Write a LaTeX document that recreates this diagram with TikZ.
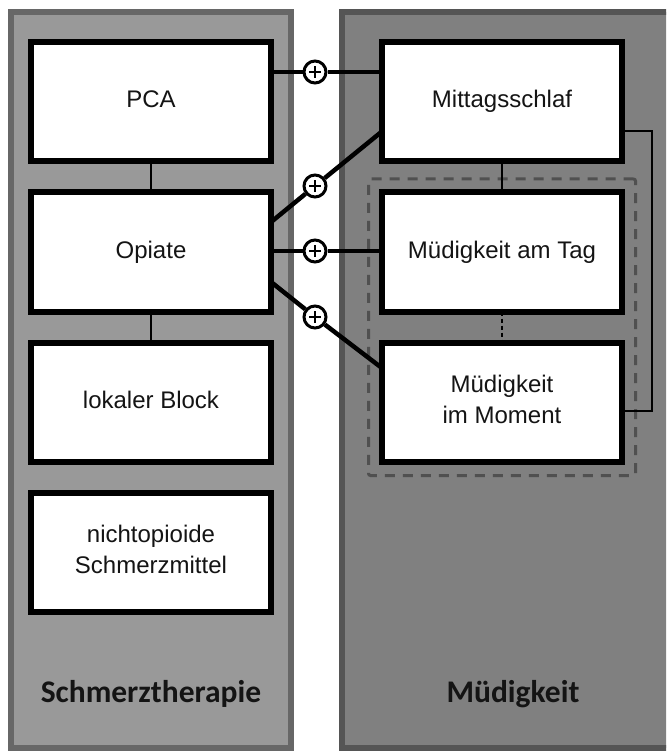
\documentclass[tikz,border=0pt]{standalone}
\usepackage{fontspec}
\setmainfont{Liberation Sans}
\newfontfamily\labelfont{Carlito}
\usetikzlibrary{fit}
\definecolor{leftfill}{HTML}{999999}
\definecolor{leftborder}{HTML}{676767}
\definecolor{rightfill}{HTML}{808080}
\definecolor{rightborder}{HTML}{555555}
\definecolor{dashgray}{HTML}{505050}
\definecolor{txt}{HTML}{141414}
\tikzset{
  box/.style={draw=black, line width=6pt, fill=white, minimum width=240pt,
    minimum height=119pt, inner sep=0pt, outer sep=0pt, text=txt, align=center,
    font=\fontsize{24}{30.5}\selectfont},
  oneline/.style={text height=17.5pt, text depth=5.5pt},
  twoline/.style={text depth=6pt},
  link/.style={draw=black, line width=2pt},
  strong/.style={draw=black, line width=4.5pt},
  plusnode/.style={circle, draw=black, line width=3pt, fill=white,
    minimum size=22pt, inner sep=0pt,
    path picture={\draw[line width=1.6pt]
      ([xshift=-6pt]path picture bounding box.center) -- ([xshift=6pt]path picture bounding box.center)
      ([yshift=-6pt]path picture bounding box.center) -- ([yshift=6pt]path picture bounding box.center);}},
  panel/.style={line width=6pt},
  title/.style={font=\labelfont\bfseries\fontsize{31.5}{37}\selectfont, text=txt, anchor=base},
  groupbox/.style={draw=dashgray, line width=3pt, dash pattern=on 10pt off 8pt,
    rounded corners=2pt, inner sep=13.5pt}
}
\begin{document}
\begin{tikzpicture}[x=1pt,y=-1pt]
\useasboundingbox (0,0) rectangle (666,751);
\clip (0,0) rectangle (666,751);
\fill[white] (0,0) rectangle (666,751);
% panels
\draw[panel, draw=leftborder, fill=leftfill] (11,12) rectangle (291,748);
\draw[panel, draw=rightborder, fill=rightfill] (342,12) rectangle (700,748);
% left boxes
\node[box, oneline] (pca) at (151,101.5) {PCA};
\node[box, oneline] (opiate) at (151,252) {Opiate};
\node[box, oneline] (lokal) at (151,402.5) {lokaler Block};
\node[box, twoline] (nicht) at (151,552.5) {nichtopioide\\Schmerzmittel};
% right boxes
\node[box, oneline] (mitt) at (502,101.5) {Mittagsschlaf};
\node[box, oneline] (tag) at (502,252) {Müdigkeit am Tag};
\node[box, twoline] (moment) at (502,402.5) {Müdigkeit\\im Moment};
% dashed group
\node[groupbox, fit=(tag)(moment)] (grp) {};
% thin links
\draw[link] (pca) -- (opiate);
\draw[link] (opiate) -- (lokal);
\draw[link] (mitt) -- (tag);
\draw[link, dash pattern=on 4pt off 3pt] (tag) -- (moment);
\draw[link] (mitt.-14.3) -- ++(30,0) |- (moment.-4.5);
% plus nodes
\node[plusnode] (c1) at (315,72) {};
\node[plusnode] (c2) at (315,186) {};
\node[plusnode] (c3) at (315,251) {};
\node[plusnode] (c4) at (315,317) {};
% strong connectors
\draw[strong] (pca.east |- c1) -- (c1) -- (mitt.west |- c1);
\draw[strong] (opiate.14) -- (c2) -- (mitt.194.7);
\draw[strong] (opiate.east |- c3) -- (c3) -- (tag.west |- c3);
\draw[strong] (opiate.-14.5) -- (c4) -- (moment.164.8);
% titles
\node[title] (t1) at (151,702) {Schmerztherapie};
\node[title] (t2) at (513,702) {Müdigkeit};
\end{tikzpicture}
\end{document}
